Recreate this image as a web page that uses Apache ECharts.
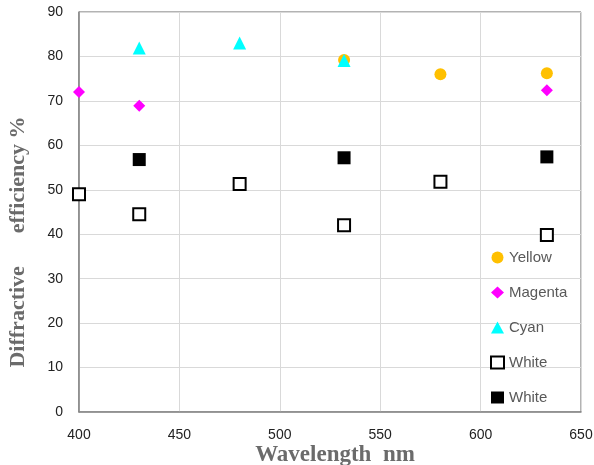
<!DOCTYPE html>
<html><head><meta charset="utf-8">
<script src="https://cdn.jsdelivr.net/npm/echarts@6/dist/echarts.min.js"></script>
<style>html,body{margin:0;padding:0;background:#fff}#c{width:594px;height:465px}</style>
</head><body><div id="c"></div>
<script>
const yellowX = [532, 580, 633];
const yellowY = [79.2, 76, 76.2];
const magentaX = [400, 430, 633];
const magentaY = [72, 68.9, 72.4];
const cyanX = [430, 480, 532];
const cyanY = [81.9, 83, 79.1];
const whiteOpenX = [400, 430, 480, 532, 580, 633];
const whiteOpenY = [49, 44.5, 51.3, 42, 51.8, 39.8];
const whiteFilledX = [430, 532, 633];
const whiteFilledY = [56.8, 57.2, 57.4];
const xTicks = [400, 450, 500, 550, 600, 650];
const yTicks = [0, 10, 20, 30, 40, 50, 60, 70, 80, 90];

const pairs = (xs, ys) => xs.map((x, i) => [x, ys[i]]);
const chart = echarts.init(document.getElementById('c'));
chart.setOption({
  animation: false,
  grid: {left: 79, right: 13, top: 12, bottom: 53, show: true, borderColor: '#666', borderWidth: 1, outerBoundsMode: 'none', containLabel: false},
  xAxis: {
    type: 'value', min: xTicks[0], max: xTicks[xTicks.length-1], interval: 50,
    name: 'Wavelength  nm', nameLocation: 'middle', nameGap: 32, nameMoveOverlap: false,
    nameTextStyle: {fontFamily: 'Liberation Serif', fontWeight: 'bold', fontSize: 23, color: '#6b6b6b', padding: [0, 0, 0, 10]},
    axisLine: {show: true, lineStyle: {color: '#868686', width: 1.5}},
    axisTick: {show: false},
    axisLabel: {margin: 16, fontFamily: 'Liberation Sans', fontSize: 14, color: '#222'},
    splitLine: {show: true, lineStyle: {color: '#d9d9d9'}}
  },
  yAxis: {
    type: 'value', min: yTicks[0], max: yTicks[yTicks.length-1], interval: 10,
    name: 'Diffractive      efficiency %', nameLocation: 'middle', nameGap: 50, nameMoveOverlap: false,
    nameTextStyle: {fontFamily: 'Liberation Serif', fontWeight: 'bold', fontSize: 22, color: '#6b6b6b', padding: [0, 60, 0, 0]},
    axisLine: {show: true, lineStyle: {color: '#868686', width: 1.5}},
    axisTick: {show: false},
    axisLabel: {margin: 16, fontFamily: 'Liberation Sans', fontSize: 14, color: '#222'},
    splitLine: {show: true, lineStyle: {color: '#d9d9d9'}}
  },
  legend: {
    orient: 'vertical', left: 485, top: 245, itemGap: 20, itemWidth: 13, itemHeight: 12,
    textStyle: {fontFamily: 'Liberation Sans', fontSize: 15, color: '#595959'},
    data: [
      {name: 'Yellow', icon: 'circle'},
      {name: 'Magenta', icon: 'diamond'},
      {name: 'Cyan', icon: 'triangle'},
      {name: 'White', icon: 'rect'},
      {name: 'White ', icon: 'rect'}
    ]
  },
  series: [
    {name: 'Yellow', type: 'scatter', symbol: 'circle', symbolSize: 12, itemStyle: {color: '#ffc000', opacity: 1}, data: pairs(yellowX, yellowY), z: 2},
    {name: 'Magenta', type: 'scatter', symbol: 'diamond', symbolSize: 12, itemStyle: {color: '#ff00ff', opacity: 1}, data: pairs(magentaX, magentaY), z: 3},
    {name: 'Cyan', type: 'scatter', symbol: 'triangle', symbolSize: 13, itemStyle: {color: '#00ffff', opacity: 1}, data: pairs(cyanX, cyanY), z: 4},
    {name: 'White', type: 'scatter', symbol: 'rect', symbolSize: 12, itemStyle: {color: '#ffffff', borderColor: '#000', borderWidth: 2, opacity: 1}, data: pairs(whiteOpenX, whiteOpenY), z: 5},
    {name: 'White ', type: 'scatter', symbol: 'rect', symbolSize: 13, itemStyle: {color: '#000000', opacity: 1}, data: pairs(whiteFilledX, whiteFilledY), z: 6}
  ]
});
</script></body></html>
